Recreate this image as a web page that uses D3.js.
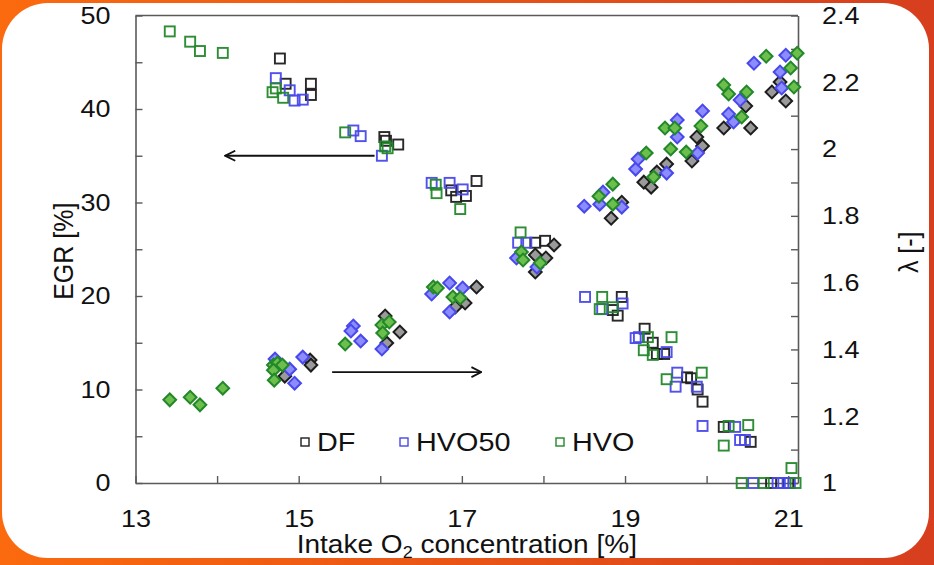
<!DOCTYPE html>
<html>
<head>
<meta charset="utf-8">
<script src="https://cdn.jsdelivr.net/npm/d3@7"></script>
<style>
  html, body { margin: 0; padding: 0; }
  body { width: 934px; height: 565px; overflow: hidden; }
  svg { display: block; font-family: "Liberation Sans", Arial, sans-serif; }
</style>
</head>
<body>
<svg id="chart" width="934" height="565"></svg>
<script>
// Intake O2 [%] vs EGR [%] (squares, left axis) and excess-air ratio λ (diamonds, right axis)
const xTicks = [13, 14, 15, 16, 17, 18, 19, 20, 21];
const egrTicks = [0, 5, 10, 15, 20, 25, 30, 35, 40, 45, 50];
const lambdaTicks = [1, 1.1, 1.2, 1.3, 1.4, 1.5, 1.6, 1.7, 1.8, 1.9, 2, 2.1, 2.2, 2.3, 2.4];
const fuels = ["DF", "HVO50", "HVO"];

const dfEgr = [
  [14.77,45.4],[14.84,42.7],[15.15,42.7],[15.15,41.5],
  [16.05,37.0],[16.07,36.6],[16.22,36.2],
  [17.18,32.3],[16.87,31.3],[16.93,30.6],[17.05,30.7],
  [17.90,25.7],[18.02,25.9],
  [18.96,19.9],[18.85,18.5],[18.91,17.9],
  [19.24,16.5],[19.34,15.0],[19.39,13.8],[19.48,13.8],
  [19.76,11.3],[19.81,11.2],[19.89,10.0],[19.95,8.7],
  [20.21,6.0],[20.54,4.4],
  [20.79,0],[21.00,0]
];
const hvo50Egr = [
  [14.72,43.3],[14.89,42.0],[14.95,40.9],[15.05,41.0],
  [15.67,37.7],[15.76,37.1],[16.02,35.0],
  [16.63,32.1],[16.85,32.1],[17.01,31.4],
  [17.69,25.7],[17.79,25.7],
  [18.51,19.9],[18.97,19.2],[18.72,18.6],
  [19.13,15.5],[19.17,15.6],[19.51,14.0],
  [19.64,11.8],[19.62,10.3],[19.88,10.3],
  [19.95,6.1],[20.35,6.0],[20.41,4.6],[20.47,4.6],
  [20.57,0],[20.87,0],[20.94,0],[21.02,0]
];
const hvoEgr = [
  [13.42,48.3],[13.67,47.2],[13.79,46.2],[14.07,46.0],
  [14.68,41.8],[14.72,42.2],[14.81,41.2],
  [15.57,37.5],[16.06,36.0],[16.09,35.8],
  [16.68,31.9],[16.69,31.0],[16.98,29.3],
  [17.72,26.8],
  [18.72,19.9],[18.69,18.6],[18.85,18.8],
  [19.28,15.6],[19.57,15.6],[19.23,14.2],[19.34,13.7],
  [19.51,11.1],[19.94,11.8],
  [20.27,6.1],[20.51,6.2],[20.21,4.0],
  [20.43,0],[20.70,0],[21.09,0],[21.04,1.6]
];

const dfLambda = [
  [15.14,1.368],[15.15,1.353],[14.83,1.320],[16.06,1.500],[16.24,1.452],[16.08,1.419],
  [17.18,1.587],[17.04,1.539],[16.92,1.527],
  [17.90,1.683],[18.03,1.674],[18.13,1.713],[17.90,1.632],
  [18.83,1.793],[18.96,1.841],
  [19.23,1.901],[19.32,1.886],[19.39,1.931],[19.51,1.955],
  [19.82,1.964],[19.88,2.036],[19.95,2.009],
  [20.21,2.063],[20.54,2.063],[20.48,2.129],
  [20.80,2.171],[20.97,2.144],[20.90,2.201]
];
const hvo50Lambda = [
  [14.71,1.371],[14.89,1.341],[14.95,1.299],[15.05,1.377],
  [15.67,1.470],[15.64,1.455],[15.76,1.425],[16.02,1.401],
  [16.63,1.566],[16.85,1.599],[17.01,1.584],[16.85,1.512],
  [17.67,1.674],[17.92,1.647],
  [18.50,1.829],[18.69,1.835],[18.73,1.871],[18.96,1.826],
  [19.13,1.940],[19.16,1.970],[19.51,1.928],
  [19.64,2.087],[19.64,2.036],[19.89,1.988],[19.95,2.114],
  [20.27,2.105],[20.33,2.081],[20.41,2.147],
  [20.58,2.257],[20.90,2.231],[20.92,2.183],[20.97,2.281]
];
const hvoLambda = [
  [13.42,1.249],[13.67,1.257],[13.79,1.234],[14.07,1.284],
  [14.69,1.353],[14.74,1.359],[14.80,1.353],[14.69,1.338],[14.70,1.308],
  [15.57,1.416],[16.02,1.473],[16.11,1.482],[16.03,1.449],
  [16.65,1.587],[16.70,1.584],[16.89,1.557],[16.98,1.554],
  [17.73,1.692],[17.75,1.668],[17.96,1.659],
  [18.68,1.859],[18.85,1.895],[18.85,1.835],
  [19.26,1.988],[19.35,1.916],
  [19.49,2.063],[19.61,2.063],[19.56,2.000],[19.75,1.991],[19.93,2.069],
  [20.43,2.096],[20.21,2.192],[20.27,2.165],[20.49,2.171],
  [20.73,2.278],[21.03,2.243],[21.11,2.287],[21.07,2.186]
];

const styles = {
  DF:    { stroke: "#1e1e1e", fill: "#9a9a9a" },
  HVO50: { stroke: "#4848ec", fill: "#8c8cff" },
  HVO:   { stroke: "#23882a", fill: "#6cbf4c" }
};

const W = 934, H = 565;
const plot = { left: 135.5, right: 798, top: 15.5, bottom: 483 };
const stretch = 1.1;      // text is set slightly wide
const tickFont = 24.5;

const svg = d3.select("#chart");

// Orange frame with a rounded white card
const defs = svg.append("defs");
const grad = defs.append("linearGradient").attr("id", "frame").attr("x1", 0).attr("x2", 1).attr("y1", 0).attr("y2", 0);
grad.append("stop").attr("offset", "0%").attr("stop-color", "#fb6a0e");
grad.append("stop").attr("offset", "100%").attr("stop-color", "#d63e1e");
svg.append("rect").attr("width", W).attr("height", H).attr("fill", "url(#frame)");
svg.append("rect").attr("x", 2).attr("y", 3).attr("width", 927).attr("height", 555)
  .attr("rx", 46).attr("fill", "#fff");

const x = d3.scaleLinear().domain([13, 21.12]).range([plot.left, plot.right]);
const yL = d3.scaleLinear().domain([0, 50]).range([plot.bottom, plot.top]);
const yR = d3.scaleLinear().domain([1, 2.4]).range([plot.bottom, plot.top]);

const axisColor = "#5a5a5a";

// Frame top line
svg.append("line")
  .attr("x1", plot.left).attr("x2", plot.right)
  .attr("y1", plot.top).attr("y2", plot.top)
  .attr("stroke", axisColor).attr("stroke-width", 1.6);

function styleAxis(g) {
  g.select(".domain").attr("stroke", axisColor).attr("stroke-width", 1.6);
  g.selectAll(".tick line").attr("stroke", axisColor).attr("stroke-width", 1.4);
  g.selectAll(".tick text").attr("fill", "#111").attr("font-size", tickFont)
    .attr("font-family", "Liberation Sans, Arial, sans-serif")
    .attr("transform", `scale(${stretch},1)`);
}

const gx = svg.append("g").attr("transform", `translate(0,${plot.bottom})`)
  .call(d3.axisBottom(x).tickValues(xTicks).tickSizeInner(-7).tickSizeOuter(0).tickPadding(27)
    .tickFormat(d => d % 2 === 1 ? d : ""));
styleAxis(gx);

const gl = svg.append("g").attr("transform", `translate(${plot.left},0)`)
  .call(d3.axisLeft(yL).tickValues(egrTicks).tickSizeInner(-7).tickSizeOuter(0).tickPadding(25 / stretch)
    .tickFormat(d => d % 10 === 0 ? d : ""));
styleAxis(gl);

const gr = svg.append("g").attr("transform", `translate(${plot.right},0)`)
  .call(d3.axisRight(yR).tickValues(lambdaTicks).tickSizeInner(-7).tickSizeOuter(0).tickPadding(24 / stretch)
    .tickFormat(d => (Math.round(d * 10) % 2 === 0) ? d3.format("~g")(d) : ""));
styleAxis(gr);

// Axis titles
svg.append("text")
  .attr("transform", `translate(${x(17) + 5},553) scale(${stretch * 1.02},1)`)
  .attr("text-anchor", "middle").attr("font-size", 25).attr("fill", "#111")
  .call(t => {
    t.append("tspan").text("Intake O");
    t.append("tspan").attr("font-size", 16).attr("dy", 5).text("2");
    t.append("tspan").attr("dy", -5).text(" concentration [%]");
  });

svg.append("text")
  .attr("transform", `translate(73,${(plot.top + plot.bottom) / 2 + 2}) scale(${stretch},1) rotate(-90)`)
  .attr("text-anchor", "middle").attr("font-size", 25).attr("fill", "#111")
  .text("EGR [%]");

svg.append("text")
  .attr("transform", `translate(918,${(plot.top + plot.bottom) / 2 + 3}) scale(${stretch},1) rotate(-90)`)
  .attr("text-anchor", "middle").attr("font-size", 25).attr("fill", "#111")
  .text("λ [-]");

// Direction arrows
defs.append("marker").attr("id", "head")
  .attr("viewBox", "0 0 12 12").attr("refX", 11).attr("refY", 6)
  .attr("markerWidth", 12).attr("markerHeight", 12).attr("markerUnits", "userSpaceOnUse")
  .attr("orient", "auto")
  .append("path").attr("d", "M1,1 L11,6 L1,11").attr("fill", "none")
  .attr("stroke", "#111").attr("stroke-width", 1.8);

svg.append("line")
  .attr("x1", x(15.93)).attr("x2", x(14.1))
  .attr("y1", yL(35.0)).attr("y2", yL(35.0))
  .attr("stroke", "#111").attr("stroke-width", 1.8).attr("marker-end", "url(#head)");
svg.append("line")
  .attr("x1", x(15.41)).attr("x2", x(17.24))
  .attr("y1", yR(1.332)).attr("y2", yR(1.332))
  .attr("stroke", "#111").attr("stroke-width", 1.8).attr("marker-end", "url(#head)");

// Markers: open squares for EGR, filled diamonds for λ
const sq = 10;
const egrSets = [["DF", dfEgr], ["HVO50", hvo50Egr], ["HVO", hvoEgr]];
const lamSets = [["DF", dfLambda], ["HVO50", hvo50Lambda], ["HVO", hvoLambda]];

egrSets.forEach(([name, data]) => {
  svg.append("g").selectAll("rect").data(data).join("rect")
    .attr("x", d => x(d[0]) - sq / 2).attr("y", d => yL(d[1]) - sq / 2)
    .attr("width", sq).attr("height", sq)
    .attr("fill", "none").attr("stroke", styles[name].stroke).attr("stroke-width", 1.9)
    .attr("opacity", 0.95);
});

const ds = 9;
lamSets.forEach(([name, data]) => {
  svg.append("g").selectAll("rect").data(data).join("rect")
    .attr("x", -ds / 2).attr("y", -ds / 2).attr("width", ds).attr("height", ds)
    .attr("transform", d => `translate(${x(d[0])},${yR(d[1])}) rotate(45)`)
    .attr("fill", styles[name].fill).attr("stroke", styles[name].stroke).attr("stroke-width", 2);
});

// Legend
const legend = svg.append("g").attr("transform", "translate(0,442)");
const legendX = [305, 404, 560];
fuels.forEach((name, i) => {
  const g = legend.append("g").attr("transform", `translate(${legendX[i]},0)`);
  g.append("rect").attr("x", -4).attr("y", -4).attr("width", 8).attr("height", 8)
    .attr("fill", "none").attr("stroke", styles[name].stroke).attr("stroke-width", 1.4);
  g.append("text").attr("transform", `translate(12,9) scale(1.13,1)`)
    .attr("font-size", 25.5).attr("fill", "#111").text(name);
});
</script>
</body>
</html>
